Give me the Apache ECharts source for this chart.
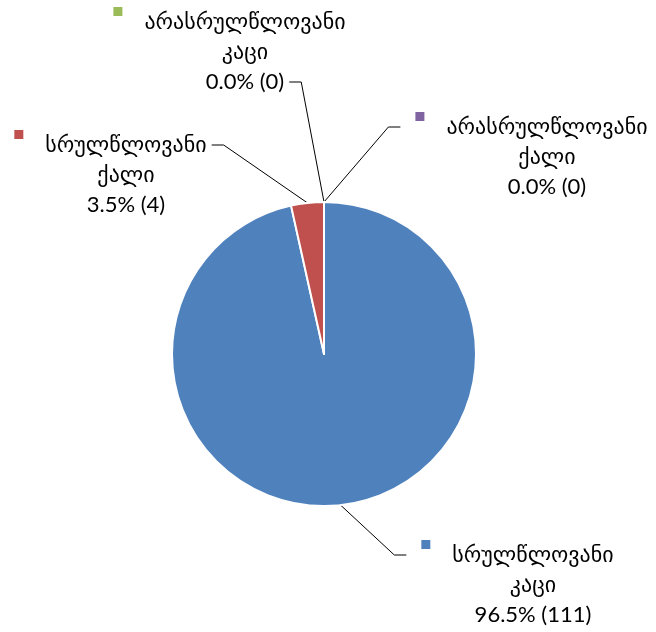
<!DOCTYPE html>
<html>
<head>
<meta charset="utf-8">
<script src="https://cdn.jsdelivr.net/npm/echarts@6/dist/echarts.min.js"></script>
<style>
  html, body { margin: 0; padding: 0; background: #fff; }
  #chart { width: 656px; height: 632px; }
</style>
</head>
<body>
<div id="chart"></div>
<script>
const categories = ['სრულწლოვანი კაცი', 'სრულწლოვანი ქალი', 'არასრულწლოვანი კაცი', 'არასრულწლოვანი ქალი'];
const counts = [111, 4, 0, 0];
const colors = ['#4F81BD', '#C0504D', '#9BBB59', '#8064A2'];

const FONT = "Lato, 'DejaVu Sans', sans-serif";
const FONT_SIZE = 22;
const LINE_H = 30;
const MARK = 9;
const GAP = 22;

// label block placement: centre x, top y, side the leader line meets, row it meets
const labelPlace = [
  { x: 533, y: 540, side: 'left', row: 0 },
  { x: 126, y: 130, side: 'right', row: 0 },
  { x: 245, y: 7, side: 'right', row: 2 },
  { x: 547, y: 112, side: 'left', row: 0 }
];

const total = counts.reduce((a, b) => a + b, 0);

function rowsFor(i) {
  const parts = categories[i].split(' ');
  const pct = (counts[i] / total * 100).toFixed(1);
  return [parts[0], parts[1], pct + '% (' + counts[i] + ')'];
}

const measureCtx = document.createElement('canvas').getContext('2d');
function textWidth(s) {
  measureCtx.font = FONT_SIZE + 'px ' + FONT;
  return measureCtx.measureText(s).width;
}

const rich = {
  t: { fontSize: FONT_SIZE, fontFamily: FONT, color: '#000', lineHeight: LINE_H, align: 'center' },
  g: { width: GAP, lineHeight: LINE_H },
  s: { width: MARK + GAP, lineHeight: LINE_H }
};
colors.forEach((c, i) => {
  rich['m' + i] = { width: MARK, height: MARK, backgroundColor: c, verticalAlign: 'top', lineHeight: LINE_H };
});

const chart = echarts.init(document.getElementById('chart'));

const option = {
  backgroundColor: '#fff',
  animation: false,
  series: [{
    type: 'pie',
    center: [324, 354],
    radius: 152,
    startAngle: 90,
    clockwise: true,
    avoidLabelOverlap: false,
    data: categories.map((name, i) => ({
      name: name,
      value: counts[i],
      itemStyle: { color: colors[i] }
    })),
    itemStyle: { borderColor: '#fff', borderWidth: 2 },
    label: {
      show: true,
      position: 'outside',
      fontFamily: FONT,
      fontSize: FONT_SIZE,
      color: '#000',
      formatter: p => {
        const r = rowsFor(p.dataIndex);
        return '{m' + p.dataIndex + '|}{g|}{t|' + r[0] + '}{s|}\n{t|' + r[1] + '}\n{t|' + r[2] + '}';
      },
      rich: rich
    },
    labelLine: { show: true, lineStyle: { color: '#000', width: 1 } },
    labelLayout: p => {
      const pl = labelPlace[p.dataIndex];
      const rows = rowsFor(p.dataIndex);
      const y = pl.y + LINE_H * (pl.row + 0.5);
      const half = textWidth(rows[pl.row]) / 2;
      let endX, elbowX;
      if (pl.side === 'left') {
        endX = pl.x - half - (pl.row === 0 ? MARK + GAP : 0) - 15;
        elbowX = endX - 12;
      } else {
        endX = pl.x + half + 5;
        elbowX = endX + 12;
      }
      const start = p.labelLinePoints ? p.labelLinePoints[0] : [324, 202];
      return {
        x: pl.x,
        y: pl.y,
        align: 'center',
        verticalAlign: 'top',
        labelLinePoints: [start, [elbowX, y], [endX, y]]
      };
    },
    emphasis: { disabled: true }
  }]
};

chart.setOption(option);
window.addEventListener('resize', () => chart.resize());
</script>
</body>
</html>
